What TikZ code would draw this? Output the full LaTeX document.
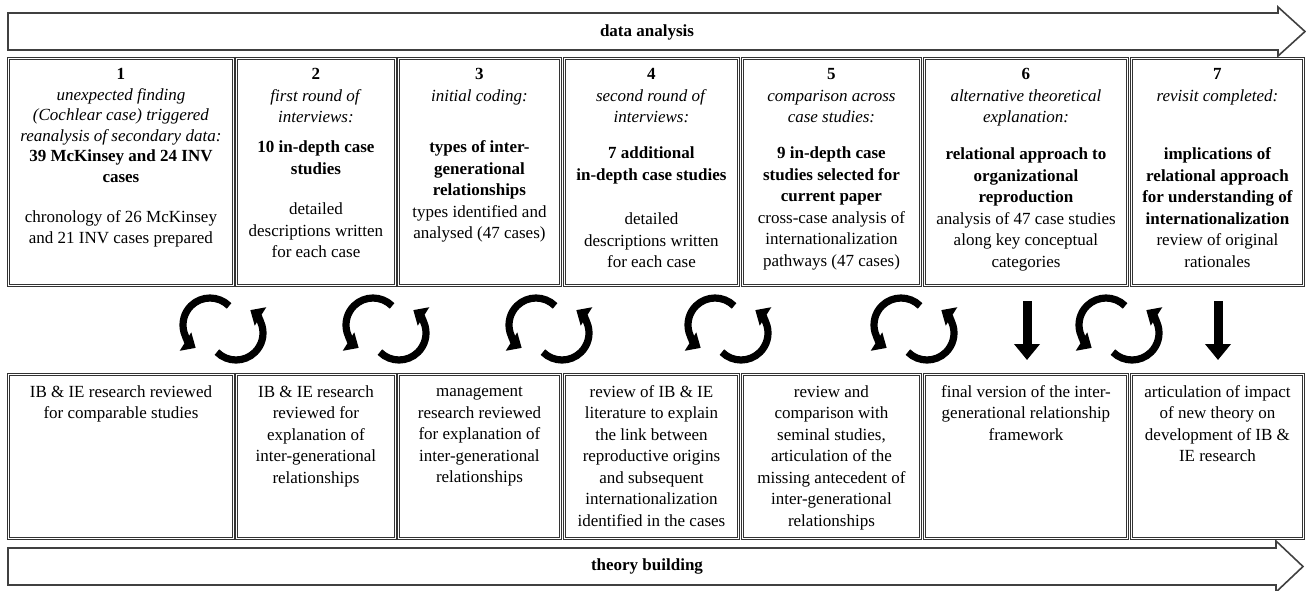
\documentclass[tikz,border=0pt]{standalone}
\usepackage{fontspec}
\setmainfont{Liberation Serif}
\usetikzlibrary{arrows.meta,positioning}

\begin{document}
\begin{tikzpicture}
[x=0.5pt,y=-0.5pt,
 stepbox/.style={draw=black!80,double=white,double distance=0.6pt,line width=0.45pt,inner sep=0pt,anchor=north west},
 steptext/.style={align=center,inner sep=0pt,font=\fontsize{8.5}{10.75}\selectfont},
 bigarrow/.style={draw=black!75,line width=0.8pt,line join=miter},
 cyc/.style={line width=3.6pt,-{Triangle[length=6pt,width=10.5pt]}},
 downarrow/.style={line width=4.5pt,-{Triangle[length=8pt,width=12.5pt]}},
 cyclearrows/.pic={
  \draw[cyc,shift={(-6pt,2pt)}] (45:13.5pt) arc[start angle=45,end angle=238,radius=13.5pt];
  \draw[cyc,shift={(7pt,-2pt)}] (225:13.5pt) arc[start angle=225,end angle=418,radius=13.5pt];
 }]
\useasboundingbox (0,0) rectangle (1306,590);

% the two long arrows
\draw[bigarrow] (8,13) -- (1278,13) -- (1278,7) -- (1305,31.5) -- (1278,56) -- (1278,50) -- (8,50) -- cycle;
\node[font=\bfseries\fontsize{8.5}{10}\selectfont] (analysis) at (647,32) {data analysis};
\draw[bigarrow] (8,548) -- (1276,548) -- (1276,541) -- (1303,566.5) -- (1276,592) -- (1276,585) -- (8,585) -- cycle;
\node[font=\bfseries\fontsize{8.5}{10}\selectfont] (theory) at (647,566) {theory building};

% boxes
\foreach \i/\l/\r in {1/8/233,2/236/395,3/398/560,4/564/738,5/742/920,6/924/1127,7/1131/1303}
{
 \node[stepbox,minimum width={(\r-\l)*0.5pt},minimum height=113.5pt] (d\i) at (\l,58) {};
 \node[stepbox,minimum width={(\r-\l)*0.5pt},minimum height=82pt] (t\i) at (\l,374) {};
}

\node[steptext,font=\fontsize{8.5}{10.25}\selectfont,below=5pt of d1.north] (d1txt) {\textbf{1}\\ \textit{unexpected finding}\\ \textit{(Cochlear case) triggered}\\ \textit{reanalysis of secondary data:}\\ \textbf{39 McKinsey and 24 INV}\\ \textbf{cases}\\[10pt] chronology of 26 McKinsey\\ and 21 INV cases prepared};
\node[steptext,below=5pt of d2.north] (d2txt) {\textbf{2}\\ \textit{first round of}\\ \textit{interviews:}\\[4.25pt] \textbf{10 in-depth case}\\ \textbf{studies}\\[9.5pt] detailed\\ descriptions written\\ for each case};
\node[steptext,below=5pt of d3.north] (d3txt) {\textbf{3}\\ \textit{initial coding:}\\[15pt] \textbf{types of inter-}\\ \textbf{generational}\\ \textbf{relationships}\\ types identified and\\ analysed (47 cases)};
\node[steptext,below=5pt of d4.north] (d4txt) {\textbf{4}\\ \textit{second round of}\\ \textit{interviews:}\\[7.25pt] \textbf{7 additional}\\ \textbf{in-depth case studies}\\[11.5pt] detailed\\ descriptions written\\ for each case};
\node[steptext,below=5pt of d5.north] (d5txt) {\textbf{5}\\ \textit{comparison across}\\ \textit{case studies:}\\[7.25pt] \textbf{9 in-depth case}\\ \textbf{studies selected for}\\ \textbf{current paper}\\ cross-case analysis of\\ internationalization\\ pathways (47 cases)};
\node[steptext,below=5pt of d6.north] (d6txt) {\textbf{6}\\ \textit{alternative theoretical}\\ \textit{explanation:}\\[7.75pt] \textbf{relational approach to}\\ \textbf{organizational}\\ \textbf{reproduction}\\ analysis of 47 case studies\\ along key conceptual\\ categories};
\node[steptext,below=5pt of d7.north] (d7txt) {\textbf{7}\\ \textit{revisit completed:}\\[18.5pt] \textbf{implications of}\\ \textbf{relational approach}\\ \textbf{for understanding of}\\ \textbf{internationalization}\\ review of original\\ rationales};

\node[steptext,below=5.5pt of t1.north] (t1txt) {IB \& IE research reviewed\\ for comparable studies};
\node[steptext,below=5.5pt of t2.north] (t2txt) {IB \& IE research\\ reviewed for\\ explanation of\\ inter-generational\\ relationships};
\node[steptext,below=6.5pt of t3.north] (t3txt) {management\\ research reviewed\\ for explanation of\\ inter-generational\\ relationships};
\node[steptext,below=5.5pt of t4.north] (t4txt) {review of IB \& IE\\ literature to explain\\ the link between\\ reproductive origins\\ and subsequent\\ internationalization\\ identified in the cases};
\node[steptext,below=5.5pt of t5.north] (t5txt) {review and\\ comparison with\\ seminal studies,\\ articulation of the\\ missing antecedent of\\ inter-generational\\ relationships};
\node[steptext,below=5.5pt of t6.north] (t6txt) {final version of the inter-\\ generational relationship\\ framework};
\node[steptext,below=5.5pt of t7.north] (t7txt) {articulation of impact\\ of new theory on\\ development of IB \&\\ IE research};

% iterations between data and theory
\foreach \cx in {222,385,548,727,913,1118}
 \pic at (\cx,329) {cyclearrows};

\coordinate (a6) at (1027,301);
\coordinate (b6) at (1027,360);
\coordinate (a7) at (1218,301);
\coordinate (b7) at (1218,360);
\draw[downarrow] (a6) -- (b6);
\draw[downarrow] (a7) -- (b7);
\end{tikzpicture}
\end{document}
